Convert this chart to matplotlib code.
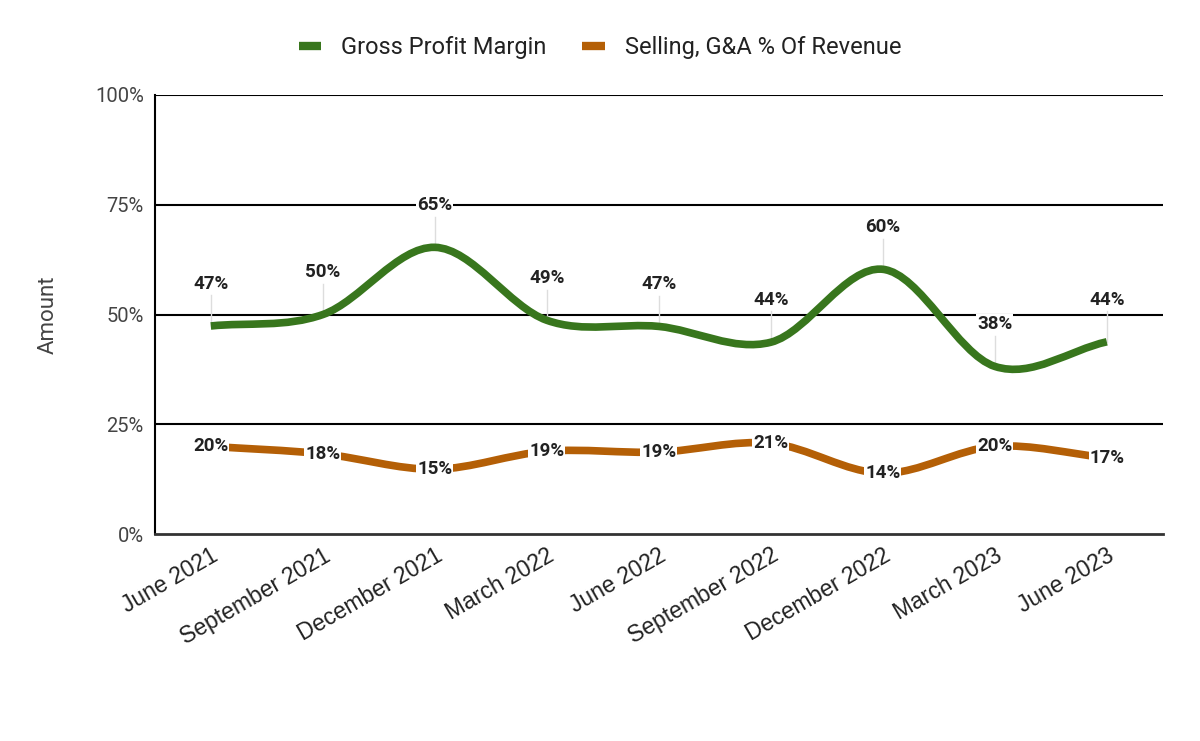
import matplotlib
matplotlib.use("Agg")
import matplotlib.pyplot as plt
from matplotlib.path import Path
from matplotlib.patches import PathPatch
from matplotlib.lines import Line2D
import numpy as np

categories = ["June 2021", "September 2021", "December 2021", "March 2022", "June 2022",
              "September 2022", "December 2022", "March 2023", "June 2023"]
gross_margin = [47.4, 50.0, 65.3, 48.7, 47.3, 43.7, 60.3, 38.2, 43.8]
sga_pct = [20.0, 18.3, 14.8, 18.9, 18.7, 20.7, 13.9, 20.0, 17.4]
series_names = ["Gross Profit Margin", "Selling, G&A % Of Revenue"]
yticks = [0, 25, 50, 75, 100]

GREEN = "#38761d"
ORANGE = "#b45f06"


def smooth_path(xs, ys):
    xs = np.asarray(xs, float)
    ys = np.asarray(ys, float)
    n = len(xs)
    verts = [(xs[0], ys[0])]
    codes = [Path.MOVETO]
    for i in range(n - 1):
        i0 = max(i - 1, 0)
        i3 = min(i + 2, n - 1)
        t1 = ((xs[i + 1] - xs[i0]) / (i + 1 - i0), (ys[i + 1] - ys[i0]) / (i + 1 - i0))
        t2 = ((xs[i3] - xs[i]) / (i3 - i), (ys[i3] - ys[i]) / (i3 - i))
        c1 = (xs[i] + t1[0] / 3, ys[i] + t1[1] / 3)
        c2 = (xs[i + 1] - t2[0] / 3, ys[i + 1] - t2[1] / 3)
        verts += [c1, c2, (xs[i + 1], ys[i + 1])]
        codes += [Path.CURVE4] * 3
    return Path(verts, codes)


fig = plt.figure(figsize=(12, 7.41), dpi=100)
ax = fig.add_axes([0.129, 0.279, 0.84, 0.593])
x = np.arange(len(categories))

ax.set_xlim(-0.5, len(categories) - 0.5)
ax.set_ylim(0, 100)
ax.set_yticks(yticks)
ax.set_yticklabels([f"{v}%" for v in yticks], fontfamily="Roboto", fontsize=14.5, color="#444444")
ax.set_xticks(x)
ax.set_xticklabels(categories, rotation=30, ha="right", va="top", rotation_mode="anchor",
                   fontfamily="Liberation Sans", fontsize=16.5, color="#222222")
ax.tick_params(axis="both", length=0, pad=8)
ax.tick_params(axis="x", pad=7)

for v in yticks[1:]:
    ax.axhline(v, color="black", lw=1.5, zorder=1)
for s in ["top", "right"]:
    ax.spines[s].set_visible(False)
ax.spines["left"].set_color("black")
ax.spines["left"].set_linewidth(1.5)
ax.spines["bottom"].set_color("#333333")
ax.spines["bottom"].set_linewidth(2)

ax.set_ylabel("Amount", fontfamily="Roboto", fontsize=16, color="#444444", labelpad=26)

# leader lines + green labels
for xi, v in zip(x, gross_margin):
    ax.plot([xi, xi], [v, v + 7.0], color="#dddddd", lw=1, zorder=2)
    ax.text(xi, v + 9.6, f"{round(v)}%", ha="center", va="center", fontfamily="Roboto",
            fontweight="bold", fontsize=13.5, color="#222222", zorder=6,
            bbox=dict(facecolor="white", edgecolor="none", pad=0.5))

ax.add_patch(PathPatch(smooth_path(x, gross_margin), facecolor="none", edgecolor=GREEN,
                       lw=5.5, capstyle="butt", zorder=4))
ax.add_patch(PathPatch(smooth_path(x, sga_pct), facecolor="none", edgecolor=ORANGE,
                       lw=5.5, capstyle="butt", zorder=4))

for xi, v in zip(x, sga_pct):
    ax.text(xi, v, f"{round(v)}%", ha="center", va="center", fontfamily="Roboto",
            fontweight="bold", fontsize=13.5, color="#222222", zorder=6,
            bbox=dict(facecolor="white", edgecolor="none", pad=0.5))

handles = [Line2D([0], [0], color=GREEN, lw=6, solid_capstyle="butt"),
           Line2D([0], [0], color=ORANGE, lw=6, solid_capstyle="butt")]
leg = fig.legend(handles, series_names, loc="center", bbox_to_anchor=(0.5, 0.936), ncol=2,
                 frameon=False, handlelength=0.95, handletextpad=0.85, columnspacing=1.5,
                 prop={"family": "Roboto", "size": 17.0})
for t in leg.get_texts():
    t.set_color("#222222")

fig.savefig("out.png", dpi=100, facecolor="white")
